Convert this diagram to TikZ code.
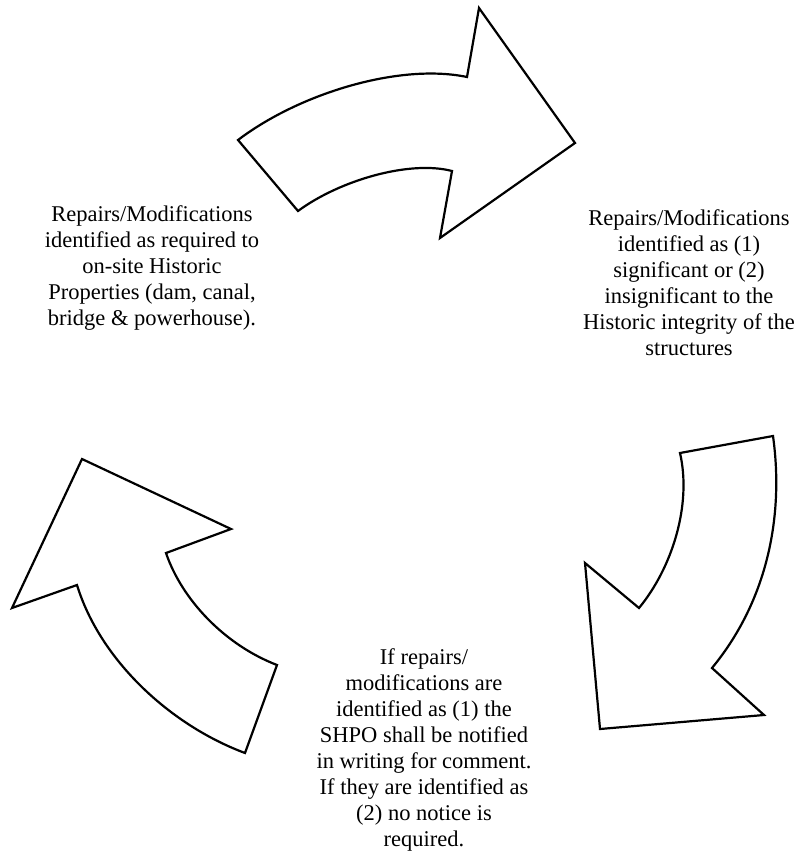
\documentclass[tikz,border=0pt]{standalone}
\usepackage{fontspec}
\setmainfont{Liberation Serif}
\usepackage{tikz}

\begin{document}
\begin{tikzpicture}[x=1pt,y=-1pt,
  bentarrow/.style={draw=black,line width=2.2pt,fill=white,line join=miter},
  steptext/.style={align=center,font=\fontsize{22.5}{26}\selectfont,inner sep=0pt}]
\useasboundingbox (0,0) rectangle (798,856);
% top arrow
\draw[bentarrow] (238,140) .. controls (300,93) and (400,63) .. (467,77) -- (479,8) -- (575,143) -- (440,238) -- (452,171) .. controls (410,160) and (340,180) .. (298,211) -- cycle;
% right arrow
\draw[bentarrow] (680,453) -- (773,436) .. controls (784,515) and (768,600) .. (712,668) -- (764,715) -- (600,729) -- (585,563) -- (639,608) .. controls (672,568) and (692,505) .. (680,453) -- cycle;
% left arrow
\draw[bentarrow] (82,459) -- (231,529) -- (166,553) .. controls (182,600) and (225,645) .. (277,665) -- (245,753) .. controls (170,725) and (100,660) .. (77,585) -- (12,608) -- cycle;

\node[steptext] (required) at (152,268) {Repairs/Modifications\\identified as required to\\on-site Historic\\Properties (dam, canal,\\bridge \& powerhouse).};
\node[steptext] (sorted) at (689,283) {Repairs/Modifications\\identified as (1)\\significant or (2)\\insignificant to the\\Historic integrity of the\\structures};
\node[steptext] (notice) at (424,750) {If repairs/\\modifications are\\identified as (1) the\\SHPO shall be notified\\in writing for comment.\\If they are identified as\\(2) no notice is\\required.};
\end{tikzpicture}
\end{document}
